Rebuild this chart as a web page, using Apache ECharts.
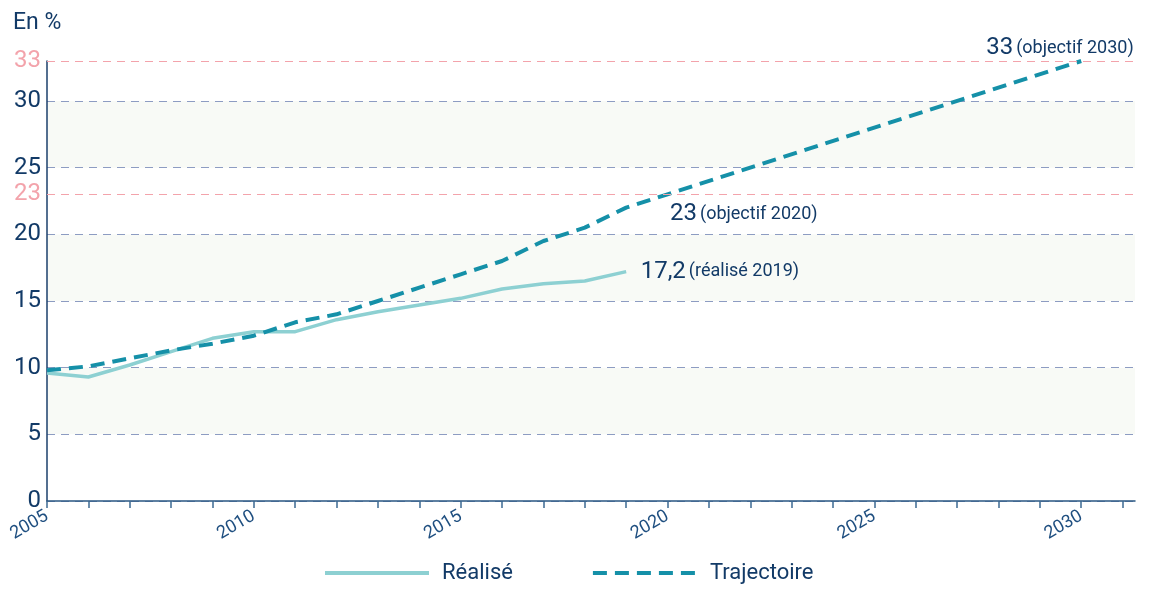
<!DOCTYPE html>
<html>
<head>
<meta charset="utf-8">
<script src="https://cdn.jsdelivr.net/npm/echarts@6/dist/echarts.min.js"></script>
<style>
  html, body { margin: 0; padding: 0; background: #fff; }
  #chart { width: 1152px; height: 594px; }
</style>
</head>
<body>
<div id="chart"></div>
<script>
// years and values
var realiseYears = [2005, 2006, 2007, 2008, 2009, 2010, 2011, 2012, 2013, 2014, 2015, 2016, 2017, 2018, 2019];
var realiseValues = [9.6, 9.3, 10.2, 11.2, 12.2, 12.7, 12.7, 13.6, 14.2, 14.7, 15.2, 15.9, 16.3, 16.5, 17.2];
var trajYears = [2005, 2006, 2007, 2008, 2009, 2010, 2011, 2012, 2013, 2014, 2015, 2016, 2017, 2018, 2019, 2020, 2030];
var trajValues = [9.8, 10.1, 10.7, 11.3, 11.8, 12.4, 13.4, 14.0, 15.0, 16.0, 17.0, 18.0, 19.5, 20.5, 22.0, 23, 33];
var objectifs = [23, 33];
var navy = '#123a67';
var pink = '#f3a3ab';
var font = 'Roboto';

function pairs(xs, ys) {
    return xs.map(function (x, i) { return [x, ys[i]]; });
}

var myChart = echarts.init(document.getElementById('chart'));
myChart.setOption({
    animation: false,
    textStyle: { fontFamily: font },
    grid: { left: 47, right: 17, top: 61, bottom: 93 },
    title: {
        text: 'En %',
        left: 8, top: 7,
        textStyle: { color: navy, fontSize: 23, fontWeight: 'normal', fontFamily: font }
    },
    legend: {
        bottom: 5,
        left: 318,
        itemWidth: 104,
        itemHeight: 12,
        itemGap: 78,
        itemStyle: { opacity: 0 },
        lineStyle: { width: 4 },
        textStyle: { color: navy, fontSize: 22, fontFamily: font, padding: [0, 0, 0, 8] },
        data: ['Réalisé', 'Trajectoire']
    },
    xAxis: {
        type: 'value',
        min: 2005,
        max: 2031.3,
        interval: 1,
        splitLine: { show: false },
        axisLine: { lineStyle: { color: '#2a5783', width: 1.5 } },
        axisTick: { length: 7, lineStyle: { color: '#3d6a93', width: 1.5 } },
        axisLabel: {
            rotate: 30,
            color: '#1f4f80',
            fontSize: 18,
            margin: 14,
            showMaxLabel: false,
            formatter: function (v) { return v % 5 === 0 ? String(v) : ''; }
        }
    },
    yAxis: {
        type: 'value',
        min: 0,
        max: 33,
        interval: 5,
        axisLine: { show: true, lineStyle: { color: '#1b3f6b', width: 1.5 } },
        axisTick: { show: false },
        axisLabel: {
            color: navy,
            fontSize: 24,
            margin: 6,
            showMaxLabel: false,
            formatter: function (v) { return v % 5 === 0 ? String(v) : ''; }
        },
        splitLine: { lineStyle: { color: '#8d9cc2', type: [8, 6], width: 1 } },
        splitArea: { show: true, areaStyle: { color: ['#ffffff', '#f8faf6'] } }
    },
    series: [
        {
            name: 'Réalisé',
            type: 'line',
            data: pairs(realiseYears, realiseValues),
            symbol: 'none',
            lineStyle: { color: '#8dd0d2', width: 3.5 },
            itemStyle: { color: '#8dd0d2' },
            z: 3,
            markLine: {
                silent: true,
                symbol: 'none',
                lineStyle: { color: pink, type: [8, 6], width: 1 },
                label: { position: 'start', color: pink, fontSize: 24, distance: 6, formatter: '{c}', fontFamily: font },
                data: objectifs.map(function (v) { return { yAxis: v }; })
            },
            markPoint: {
                symbol: 'circle',
                symbolSize: 1,
                itemStyle: { color: 'rgba(0,0,0,0)' },
                data: [{
                    coord: [realiseYears[realiseYears.length - 1], realiseValues[realiseValues.length - 1]],
                    label: {
                        position: 'right', distance: 0, offset: [14, 0],
                        formatter: '{a|17,2} {b|(réalisé 2019)}',
                        rich: {
                            a: { color: navy, fontSize: 24, fontFamily: font },
                            b: { color: navy, fontSize: 18, fontFamily: font }
                        }
                    }
                }]
            }
        },
        {
            name: 'Trajectoire',
            type: 'line',
            data: pairs(trajYears, trajValues),
            symbol: 'none',
            lineStyle: { color: '#1590a8', width: 4, type: [14, 8] },
            itemStyle: { color: '#1590a8' },
            z: 4,
            markPoint: {
                symbol: 'circle',
                symbolSize: 1,
                itemStyle: { color: 'rgba(0,0,0,0)' },
                label: {
                    rich: {
                        a: { color: navy, fontSize: 24, fontFamily: font },
                        b: { color: navy, fontSize: 18, fontFamily: font }
                    }
                },
                data: [
                    {
                        coord: [2020, 23],
                        label: { position: 'right', distance: 0, offset: [2, 20], formatter: '{a|23} {b|(objectif 2020)}' }
                    },
                    {
                        coord: [2030, 33],
                        label: { position: 'left', distance: 0, offset: [53, -13], formatter: '{a|33} {b|(objectif 2030)}' }
                    }
                ]
            }
        }
    ]
});
</script>
</body>
</html>
